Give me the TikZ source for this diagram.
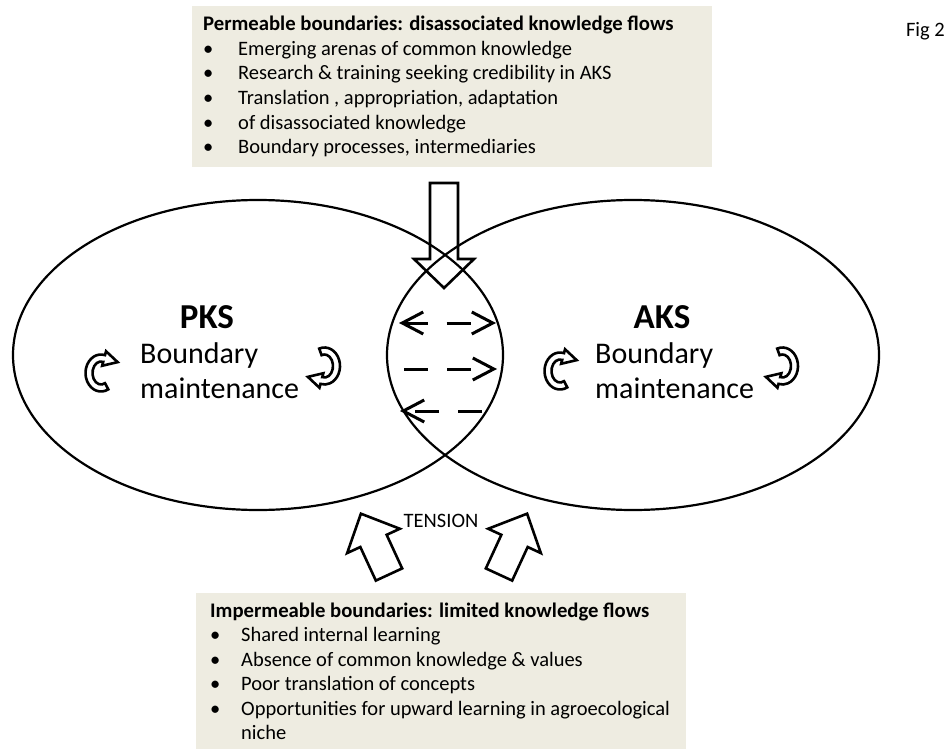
\documentclass[tikz,border=0pt]{standalone}
\usepackage{fontspec}
\setmainfont{Carlito}
\usetikzlibrary{arrows.meta,calc,shapes.geometric}
\definecolor{boxfill}{HTML}{EEECE1}
\newcommand{\bmarrow}[6]{% cx cy rx ry a1 a2
  \draw[blockarr] (#1,#2) ++(#5:{#3+3.5} and {#4+3.5})
    arc[start angle=#5,end angle=#6,x radius={#3+3.5},y radius={#4+3.5}]
    -- ($(#1,#2)+(#6:{#3+7.5} and {#4+7.5})$)
    -- ($(#1,#2)+(#6:{#3} and {#4})+(#6+90:14)$)
    -- ($(#1,#2)+(#6:{#3-7.5} and {#4-7.5})$)
    -- ($(#1,#2)+(#6:{#3-3.5} and {#4-3.5})$)
    arc[start angle=#6,end angle=#5,x radius={#3-3.5},y radius={#4-3.5}]
    -- cycle;}
\tikzset{barb/.tip={Straight Barb[length=21pt,width=22pt]}}
\begin{document}
\begin{tikzpicture}[x=1pt,y=-1pt,
  boxtext/.style={inner sep=0pt,anchor=base west,font=\fontsize{20.5}{24}\selectfont},
  boxtitle/.style={inner sep=0pt,anchor=base west,font=\fontsize{20.7}{24}\selectfont\bfseries},
  bigtext/.style={inner sep=0pt,anchor=base west,font=\fontsize{30}{35}\selectfont},
  kslabel/.style={inner sep=0pt,anchor=base,font=\fontsize{35}{40}\selectfont\bfseries},
  ring/.style={draw=black,line width=2.2pt,ellipse,inner sep=0pt},
  blockarr/.style={draw=black,line width=2.6pt,line join=miter},
  dasharr/.style={draw=black,line width=3pt,dash pattern=on 24pt off 19pt}]
\useasboundingbox (0,0) rectangle (952,749);
\fill[white] (0,0) rectangle (952,749);

% top box
\fill[boxfill] (192,6) rectangle (712,167);
\node[boxtitle] (t0) at (203,31) {Permeable boundaries: disassociated knowledge flows};
\foreach \i/\txt in {1/{Emerging  arenas of common knowledge},
                     2/{Research \& training seeking credibility in AKS},
                     3/{Translation , appropriation, adaptation},
                     4/{of disassociated knowledge},
                     5/{Boundary processes, intermediaries}}{
  \node[boxtext] (tb\i) at (203,{31+24.5*\i}) {\textbullet};
  \node[boxtext] (tt\i) at (238,{31+24.5*\i}) {\txt};
}

% bottom box
\fill[boxfill] (196,593) rectangle (686,749);
\node[boxtitle] (b0) at (210,617) {Impermeable boundaries: limited knowledge flows};
\foreach \i/\txt in {1/{Shared internal learning},
                     2/{Absence of  common knowledge \& values},
                     3/{Poor translation of concepts},
                     4/{Opportunities for upward learning in agroecological}}{
  \node[boxtext] (bb\i) at (210,{617+24.5*\i}) {\textbullet};
  \node[boxtext] (bt\i) at (241,{617+24.5*\i}) {\txt};
}
\node[boxtext] (bt5) at (241,{617+24.5*5}) {niche};

% Fig label
\node[inner sep=0pt,anchor=base east,font=\fontsize{20.5}{24}\selectfont] (fig) at (945,37) {Fig 2};

% ellipses
\node[ring,minimum width=490pt,minimum height=310pt] (pksE) at (258,355) {};
\node[ring,minimum width=492pt,minimum height=310pt] (aksE) at (633,355) {};

% labels
\node[kslabel] (pks) at (207,328) {PKS};
\node[bigtext] (pks1) at (140,363) {Boundary};
\node[bigtext] (pks2) at (140,398) {maintenance};
\node[kslabel] (aks) at (662,328) {AKS};
\node[bigtext] (aks1) at (595,363) {Boundary};
\node[bigtext] (aks2) at (595,398) {maintenance};
\node[inner sep=0pt,anchor=base,font=\fontsize{20.5}{24}\selectfont] (tension) at (441,527) {TENSION};

% curved arrows
\bmarrow{101}{373}{12}{15}{62}{285}
\bmarrow{324.5}{366}{12}{15}{-110}{105}
\bmarrow{560}{371}{12}{15}{62}{285}
\bmarrow{782.5}{366}{12}{15}{-110}{105}

% top block arrow (down)
\draw[blockarr] (430,183) -- (458,183) -- (458,259) -- (474,259) -- (444,288)
  -- (414,259) -- (430,259) -- cycle;

% bottom block arrows (up)
\begin{scope}[shift={(389,574.5)},rotate=24.8]
  \draw[blockarr] (-14.5,0) -- (14.5,0) -- (14.5,-37) -- (29,-37) -- (0,-67)
    -- (-29,-37) -- (-14.5,-37) -- cycle;
\end{scope}
\begin{scope}[shift={(499,574.5)},rotate=-24.8]
  \draw[blockarr] (-14.5,0) -- (14.5,0) -- (14.5,-37) -- (29,-37) -- (0,-67)
    -- (-29,-37) -- (-14.5,-37) -- cycle;
\end{scope}

% dashed arrows in the overlap
\coordinate (r1a) at (399,323); \coordinate (r1b) at (496,323);
\coordinate (r2a) at (404,369); \coordinate (r2b) at (497,369);
\coordinate (r3a) at (482,411); \coordinate (r3b) at (400,411);
\draw[dasharr,barb-barb] (r1a) -- (r1b);
\draw[dasharr,-barb] (r2a) -- (r2b);
\draw[dasharr,-barb] (r3a) -- (r3b);
\end{tikzpicture}
\end{document}
